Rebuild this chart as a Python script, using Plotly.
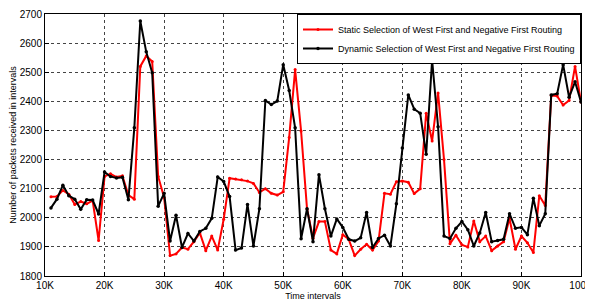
import plotly.graph_objects as go

x_k = list(range(11, 101))

static_vals = [2072, 2073, 2094, 2081, 2046, 2056, 2048, 2059, 1922, 2142,
               2151, 2140, 2144, 2078, 2064, 2520, 2556, 2537, 2142, 2070,
               1870, 1876, 1898, 1892, 1918, 1948, 1887, 1937, 1889, 1995,
               2136, 2133, 2131, 2126, 2118, 2087, 2100, 2084, 2078, 2089,
               2276, 2509, 2298, 2030, 1930, 1987, 1987, 1889, 1876, 1942,
               1926, 1870, 1892, 1909, 1889, 1920, 2084, 2081, 2124, 2126,
               2122, 2083, 2100, 2359, 2264, 2429, 2200, 1911, 1940, 1907,
               1900, 1989, 1918, 1937, 1887, 1903, 1918, 1998, 1892, 1937,
               1914, 1881, 2076, 2042, 2420, 2418, 2387, 2403, 2520, 2398]

dynamic_vals = [2034, 2064, 2112, 2076, 2064, 2029, 2062, 2061, 2013, 2157,
                2142, 2137, 2139, 2062, 2309, 2676, 2570, 2498, 2040, 2084,
                1920, 2009, 1898, 1946, 1920, 1953, 1964, 1998, 2140, 2125,
                2073, 1889, 1896, 2046, 1903, 2031, 2403, 2389, 2401, 2526,
                2437, 2309, 1928, 2031, 1918, 2148, 2031, 1937, 1996, 1967,
                1926, 1920, 1931, 2018, 1898, 1929, 1940, 1903, 2048, 2240,
                2422, 2373, 2359, 2218, 2542, 2313, 1937, 1929, 1964, 1987,
                1959, 1903, 1948, 2018, 1918, 1922, 1926, 2014, 1964, 1967,
                1942, 2067, 1973, 2014, 2422, 2426, 2526, 2414, 2467, 2398]

x_ticks = list(range(10, 101, 10))
x_tick_labels = [f"{v}K" for v in x_ticks]
y_ticks = list(range(1800, 2701, 100))

fig = go.Figure()
fig.add_trace(go.Scatter(
    x=x_k, y=static_vals, mode="lines+markers",
    name="Static Selection of West First and Negative First Routing",
    line=dict(color="#ff0000", width=2),
    marker=dict(color="#ff0000", size=3)))
fig.add_trace(go.Scatter(
    x=x_k, y=dynamic_vals, mode="lines+markers",
    name="Dynamic Selection of West First and Negative First Routing",
    line=dict(color="#000000", width=2),
    marker=dict(color="#000000", size=3.5)))

axis_common = dict(
    showline=True, linecolor="#000000", linewidth=1, mirror=True,
    ticks="inside", ticklen=4, tickcolor="#000000",
    showgrid=True, gridcolor="#444444", griddash="dot", gridwidth=1,
    zeroline=False, tickfont=dict(size=10, color="#000000"),
    automargin=False, ticklabeloverflow="allow",
)

fig.update_xaxes(range=[10, 100], tickvals=x_ticks, ticktext=x_tick_labels,
                 title=dict(text="Time intervals", font=dict(size=9, color="#000000"), standoff=0),
                 **axis_common)
fig.update_yaxes(range=[1800, 2700], tickvals=y_ticks,
                 title=dict(text="Number of packets received in intervals",
                            font=dict(size=9, color="#000000"), standoff=2),
                 **axis_common)

fig.update_layout(
    width=585, height=293,
    margin=dict(l=37, r=12, t=6, b=25),
    paper_bgcolor="#ffffff", plot_bgcolor="#ffffff",
    font=dict(family="Liberation Sans, Arial, sans-serif", size=10, color="#000000"),
    showlegend=True,
    legend=dict(x=1.0, y=1.0, xanchor="right", yanchor="top",
                bgcolor="#ffffff", bordercolor="#000000", borderwidth=1,
                font=dict(size=9), tracegroupgap=0, itemwidth=30),
)

fig.write_html("out.html")
